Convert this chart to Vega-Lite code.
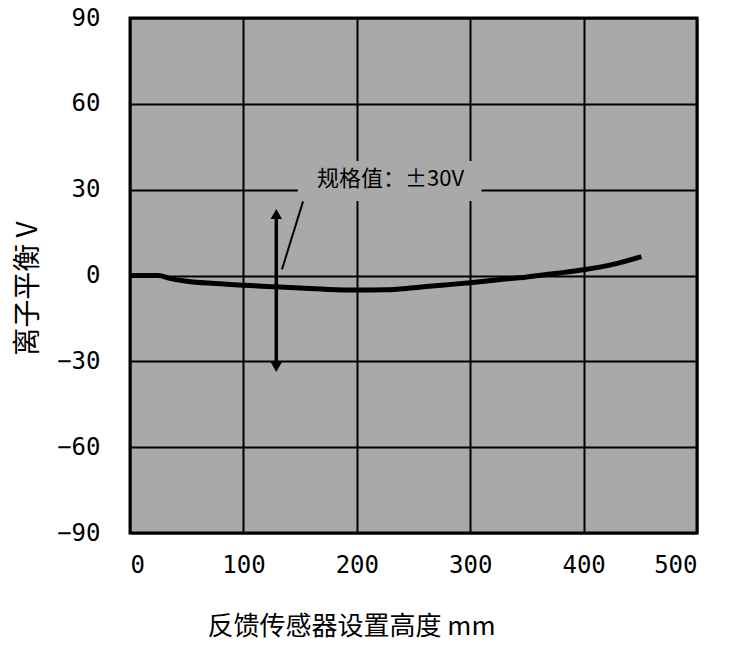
{
  "$schema": "https://vega.github.io/schema/vega-lite/v6.json",
  "autosize": "none",
  "width": 567,
  "height": 515,
  "padding": {"left": 130, "top": 18, "right": 37, "bottom": 112},
  "background": "white",
  "config": {
    "view": {"fill": "#a9a9a9", "stroke": "black", "strokeWidth": 3},
    "axis": {
      "grid": true, "gridColor": "black", "gridWidth": 2, "gridOpacity": 1,
      "domain": false, "ticks": false,
      "labelFont": "DejaVu Sans Mono", "labelFontSize": 24, "labelColor": "black",
      "titleFont": "Noto Sans CJK SC", "titleFontWeight": "normal", "titleColor": "black"
    }
  },
  "datasets": {
    "curve": [
      {"x": 0, "v": 0}, {"x": 25, "v": 0}, {"x": 35, "v": -1}, {"x": 50, "v": -2},
      {"x": 75, "v": -2.8}, {"x": 100, "v": -3.4}, {"x": 125, "v": -3.9}, {"x": 150, "v": -4.4},
      {"x": 175, "v": -4.9}, {"x": 200, "v": -5.1}, {"x": 225, "v": -5}, {"x": 250, "v": -4.3},
      {"x": 275, "v": -3.4}, {"x": 300, "v": -2.5}, {"x": 325, "v": -1.5}, {"x": 350, "v": -0.5},
      {"x": 375, "v": 0.7}, {"x": 400, "v": 2}, {"x": 425, "v": 3.8}, {"x": 451, "v": 6.6}
    ],
    "arrow": [{"x": 129, "y1": 21, "y2": -32}],
    "heads": [{"x": 129, "y": 21.5, "s": "triangle-up"}, {"x": 129, "y": -32, "s": "triangle-down"}],
    "leader": [{"x": 152.6, "v": 25.9}, {"x": 134, "v": 2.1}],
    "box": [{"x1": 148, "x2": 310, "y1": 26, "y2": 40}],
    "label": [{"x": 165, "v": 33.6, "t": "规格值：±30V"}]
  },
  "layer": [
    {
      "data": {"name": "box"},
      "mark": {"type": "rect", "fill": "#a9a9a9"},
      "encoding": {
        "x": {"field": "x1", "type": "quantitative", "scale": {"domain": [0, 500], "nice": false},
          "axis": {"values": [0, 100, 200, 300, 400, 500], "labelPadding": 20,
            "title": "反馈传感器设置高度 mm", "titleFontSize": 26, "titleX": 221, "titleY": 93,
            "titleAlign": "center", "titleBaseline": "middle"}},
        "x2": {"field": "x2"},
        "y": {"field": "y1", "type": "quantitative", "scale": {"domain": [-90, 90], "nice": false},
          "axis": {"values": [-90, -60, -30, 0, 30, 60, 90], "labelPadding": 30,
            "labelExpr": "replace(datum.label, '-', '−')",
            "title": "离子平衡 V", "titleFontSize": 28, "titleX": -102, "titleY": 270,
            "titleAngle": -90, "titleAlign": "center", "titleBaseline": "middle"}},
        "y2": {"field": "y2"}
      }
    },
    {
      "data": {"name": "label"},
      "mark": {"type": "text", "align": "left", "baseline": "middle", "font": "Noto Sans CJK SC", "fontSize": 22, "color": "black"},
      "encoding": {
        "x": {"field": "x", "type": "quantitative"},
        "y": {"field": "v", "type": "quantitative"},
        "text": {"field": "t"}
      }
    },
    {
      "data": {"name": "arrow"},
      "mark": {"type": "rule", "color": "black", "strokeWidth": 3.5},
      "encoding": {
        "x": {"field": "x", "type": "quantitative"},
        "y": {"field": "y1", "type": "quantitative"},
        "y2": {"field": "y2"}
      }
    },
    {
      "data": {"name": "heads"},
      "mark": {"type": "point", "filled": true, "color": "black", "size": 130, "opacity": 1},
      "encoding": {
        "x": {"field": "x", "type": "quantitative"},
        "y": {"field": "y", "type": "quantitative"},
        "shape": {"field": "s", "type": "nominal", "scale": null, "legend": null}
      }
    },
    {
      "data": {"name": "leader"},
      "mark": {"type": "line", "color": "black", "strokeWidth": 2},
      "encoding": {
        "x": {"field": "x", "type": "quantitative"},
        "y": {"field": "v", "type": "quantitative"}
      }
    },
    {
      "data": {"name": "curve"},
      "mark": {"type": "line", "color": "black", "strokeWidth": 5, "interpolate": "monotone"},
      "encoding": {
        "x": {"field": "x", "type": "quantitative"},
        "y": {"field": "v", "type": "quantitative"}
      }
    }
  ]
}
